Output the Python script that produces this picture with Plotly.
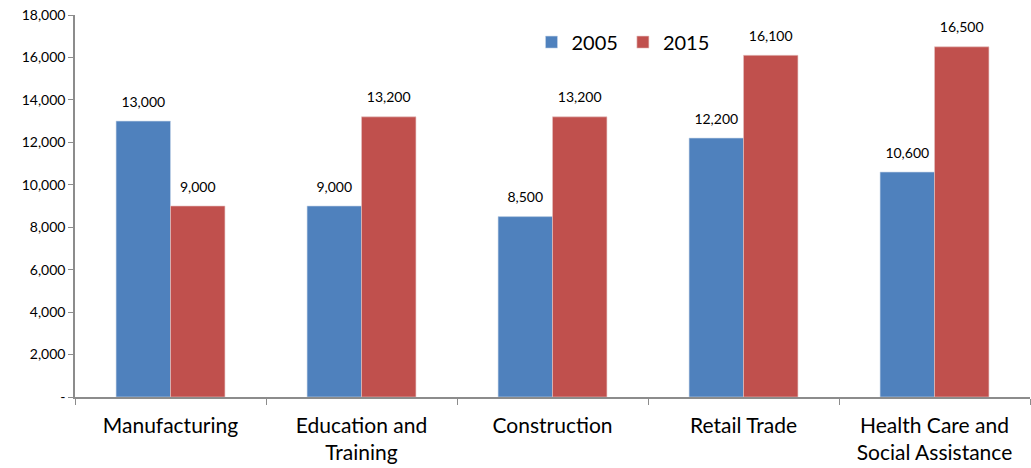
import plotly.graph_objects as go

categories = ["Manufacturing", "Education and<br>Training", "Construction",
              "Retail Trade", "Health Care and<br>Social Assistance"]
jobs_2005 = [13000, 9000, 8500, 12200, 10600]
jobs_2015 = [9000, 13200, 13200, 16100, 16500]
y_ticks = [0, 2000, 4000, 6000, 8000, 10000, 12000, 14000, 16000, 18000]
y_tick_text = ["-"] + [f"{v:,}" for v in y_ticks[1:]]

FONT = "Lato, 'Open Sans', sans-serif"
AXIS_GRAY = "#8c8c8c"
GAP = 0.43

series = [("2005", jobs_2005, "#4F81BD", "#c9d6ea"),
          ("2015", jobs_2015, "#C0504D", "#e6c4c3")]

fig = go.Figure()
for name, vals, color, edge in series:
    fig.add_trace(go.Bar(
        name=name, x=categories, y=vals, offsetgroup=name,
        marker=dict(color=color, line=dict(color=edge, width=0.6)),
    ))
# value labels, grouped the same way as the bars; the invisible marker
# lifts each label a little clear of its bar
for name, vals, color, edge in series:
    fig.add_trace(go.Scatter(
        x=categories, y=vals, mode="markers+text", offsetgroup=name,
        marker=dict(size=16, color="rgba(0,0,0,0)"),
        text=[f"{v:,}" for v in vals], textposition="top center",
        textfont=dict(size=14, color="#000000"),
        showlegend=False, cliponaxis=False, hoverinfo="skip",
    ))

fig.update_layout(
    width=1031, height=468,
    margin=dict(l=75, r=1, t=15, b=71),
    paper_bgcolor="white", plot_bgcolor="white",
    font=dict(family=FONT, color="#000000"),
    barmode="group", bargap=GAP, bargroupgap=0,
    scattermode="group", scattergap=GAP,
    showlegend=True,
    legend=dict(orientation="h", x=0.478, y=0.929, xanchor="left", yanchor="middle",
                font=dict(size=20), itemwidth=30, traceorder="normal"),
)
fig.update_xaxes(
    showline=True, linecolor=AXIS_GRAY, linewidth=1.5,
    ticks="outside", tickson="boundaries", ticklen=6, tickcolor=AXIS_GRAY,
    tickfont=dict(size=21), ticklabelstandoff=9, showgrid=False,
)
fig.update_yaxes(
    range=[0, 18000], tickvals=y_ticks, ticktext=y_tick_text,
    showline=True, linecolor=AXIS_GRAY, linewidth=1.5,
    ticks="outside", ticklen=5, tickcolor=AXIS_GRAY,
    tickfont=dict(size=14), showgrid=False, zeroline=False,
)

fig.write_html("out.html")
